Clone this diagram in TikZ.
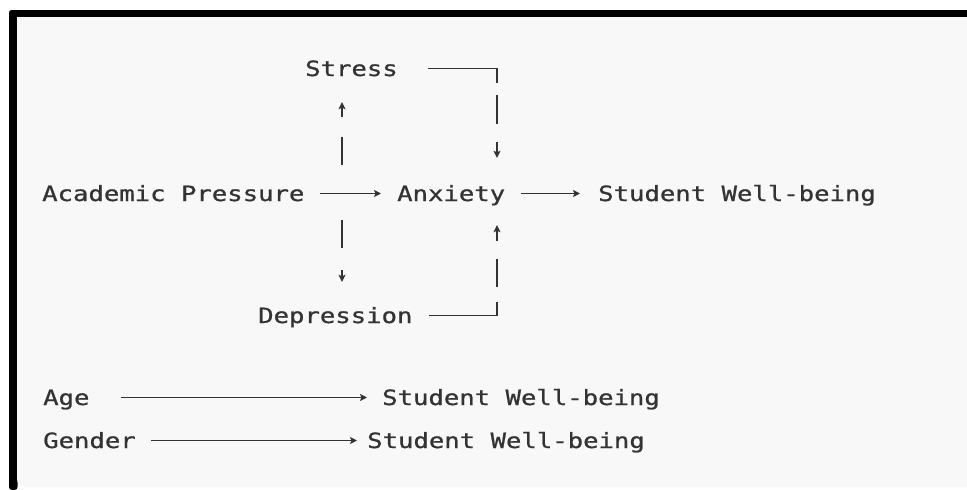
\documentclass[tikz,border=0pt]{standalone}
\usepackage{fontspec}
\newfontfamily\diagfont[FakeStretch=1.22, FakeBold=0.8]{DejaVu Sans Mono}
\usetikzlibrary{arrows.meta}
\definecolor{ink}{HTML}{333333}
\definecolor{paper}{HTML}{F8F8F8}
\tikzstyle{word}=[inner sep=0pt, anchor=base west, text height=15pt, text depth=0pt, text=ink, font=\diagfont\fontsize{21}{25}\selectfont]
\tikzstyle{link}=[draw=ink, line width=1.5pt, -{Stealth[length=7pt, width=7pt, inset=1.5pt]}]

\begin{document}
\begin{tikzpicture}[x=1pt, y=-1pt]
% Frame
    \useasboundingbox (0,0) rectangle (967,490);
    \fill[black, rounded corners=3pt] (9,10) rectangle (990,17.5);
    \fill[black, rounded corners=3pt] (9,10) rectangle (17.5,490);
    \fill[paper] (17,17) -- (990,17) -- (990,487) -- (25,487) arc[start angle=90, end angle=180, radius=8] -- cycle;
% Columns of the vertical links
    \coordinate (colA) at (342,0);
    \coordinate (colB) at (497,0);
% Nodes
    \node[word] (acad) at (42,201) {Academic Pressure};
    \node[word] (anx) at (397,201) {Anxiety};
    \node[word] (wb) at (598,201) {Student Well-being};
    \node[word] (stress) at (305,76) {Stress};
    \node[word] (depr) at (258,323) {Depression};
    \node[word] (age) at (43,405) {Age};
    \node[word] (gender) at (43,448) {Gender};
    \node[word] (wbage) at (382,405) {Student Well-being};
    \node[word] (wbgender) at (367,448) {Student Well-being};
% Links
    \draw[link, shorten <=15pt, shorten >=16pt] (acad.east) -- (acad.east -| anx.west);
    \draw[link, shorten <=16pt, shorten >=18pt] (anx.east) -- (wb.west);
    \draw[link, dash pattern=on 28pt off 20pt on 15pt, shorten <=21pt, shorten >=26pt] (acad.north -| colA) -- (stress.south -| colA);
    \draw[link, dash pattern=on 28pt off 22pt on 12pt, shorten <=19pt, shorten >=26pt] (acad.south -| colA) -- (depr.north -| colA);
    \draw[link, dash pattern=on 84pt off 12pt on 29pt off 18pt on 17pt, shorten <=30pt, shorten >=28pt] (stress.east) -| (anx.north -| colB);
    \draw[link, dash pattern=on 82pt off 15pt on 28pt off 18pt on 17pt, shorten <=16pt, shorten >=24pt] (depr.east) -| (anx.south -| colB);
    \draw[link, shorten <=31pt, shorten >=15pt] (age.east) -- (wbage.west);
    \draw[link, shorten <=15pt, shorten >=10pt] (gender.east) -- (wbgender.west);
\end{tikzpicture}
\end{document}
